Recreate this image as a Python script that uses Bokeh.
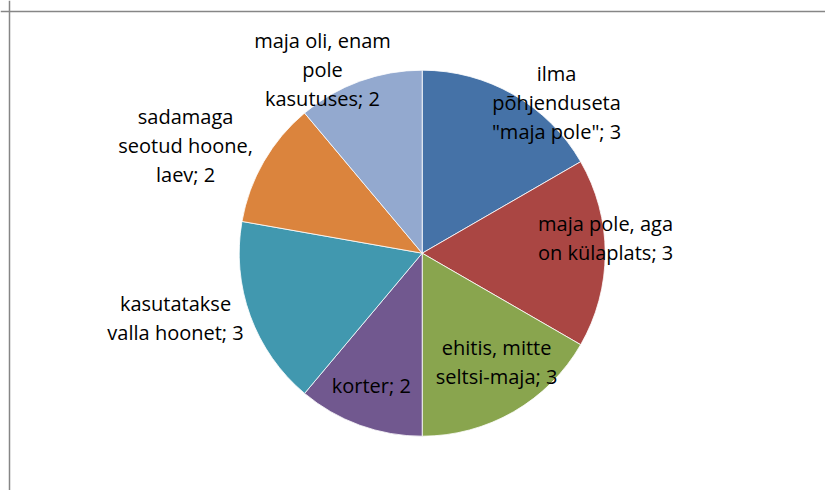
import math
from bokeh.plotting import figure
from bokeh.models import ColumnDataSource, Span, Range1d
from bokeh.core.properties import value
from bokeh.embed import file_html
from bokeh.resources import INLINE

# ---- data ----
categories = [
    'ilma\npõhjenduseta\n"maja pole"',
    'maja pole, aga\non külaplats',
    'ehitis, mitte\nseltsi-maja',
    'korter',
    'kasutatakse\nvalla hoonet',
    'sadamaga\nseotud hoone,\nlaev',
    'maja oli, enam\npole\nkasutuses',
]
values = [3, 3, 3, 2, 3, 2, 2]
colors = ["#4572A7", "#AA4643", "#89A54E", "#71588F", "#4198AF", "#DB843D", "#93A9CF"]

# ---- layout ----
W, H = 825, 490
cx, cy = 421.7, H - 252.7
R = 183
label_r = [202, 184, 132, 142, 255, 260, 209]          # label distance from centre (px)
label_shift = [11.7, -4.7, -4.3, 1.0, 5.3, -5.5, -8.5]  # angle nudge (deg)
FS = 20

total = sum(values)
starts, ends, lx, ly, texts = [], [], [], [], []
acc = 0
for i, v in enumerate(values):
    a0 = acc / total * 2 * math.pi
    a1 = (acc + v) / total * 2 * math.pi
    starts.append(math.pi / 2 - a0)
    ends.append(math.pi / 2 - a1)
    mid = (a0 + a1) / 2 + math.radians(label_shift[i])
    lx.append(cx + label_r[i] * math.sin(mid))
    ly.append(cy + label_r[i] * math.cos(mid))
    texts.append(f"{categories[i]}; {v}")
    acc += v

src = ColumnDataSource(dict(start=starts, end=ends, color=colors))
lsrc = ColumnDataSource(dict(x=lx, y=ly, text=texts))

p = figure(width=W, height=H, output_backend="svg", toolbar_location=None,
           x_range=Range1d(0, W), y_range=Range1d(0, H), min_border=0,
           outline_line_color=None, background_fill_color="white", border_fill_color="white")
p.axis.visible = False
p.grid.visible = False

p.wedge(x=cx, y=cy, radius=R, start_angle="start", end_angle="end", direction="clock",
        fill_color="color", line_color="white", line_width=0.8, source=src)

p.text(x="x", y="y", text="text", source=lsrc, text_align="center", text_baseline="middle",
       text_font=value("Open Sans"), text_font_size=f"{FS}px", text_color="black",
       text_line_height=1.07)

p.add_layout(Span(location=9, dimension="height", line_color="#868686", line_width=1.5))
p.add_layout(Span(location=H - 11, dimension="width", line_color="#868686", line_width=1.5))

open("out.html", "w").write(file_html(p, INLINE))
